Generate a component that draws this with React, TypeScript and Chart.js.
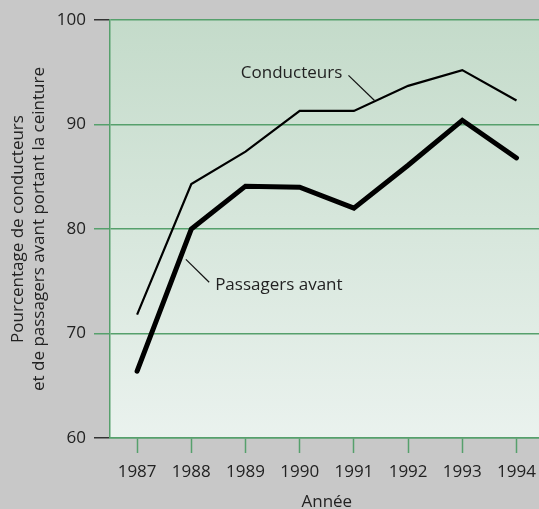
import React, { useEffect, useRef } from 'react';
import { Chart, registerables } from 'chart.js';

Chart.register(...registerables);

const years = ['1987', '1988', '1989', '1990', '1991', '1992', '1993', '1994'];
const conducteurs = [71.8, 84.3, 87.4, 91.3, 91.3, 93.7, 95.2, 92.3];
const passagers = [66.4, 80.0, 84.1, 84.0, 82.0, 86.1, 90.4, 86.8];
const yTicks = [60, 70, 80, 90, 100];

const yTitle = ['Pourcentage de conducteurs', 'et de passagers avant portant la ceinture'];
const xTitle = 'Année';

// annotation labels, anchored in data units (category index, value)
const labelTexts = ['Conducteurs', 'Passagers avant'];
const labelAnchors = [
  { x: 2.85, y: 94.9, align: 'center' },
  { x: 1.44, y: 74.6, align: 'left' },
];
const leaderLines = [
  { x1: 3.9, y1: 94.7, x2: 4.38, y2: 92.3 },
  { x1: 0.9, y1: 77.1, x2: 1.33, y2: 74.9 },
];

const GREEN = '#56a06c';
const TEXT = '#222222';
const FONT = "'Open Sans', 'Noto Sans', sans-serif";

const bgPlugin = {
  id: 'bgPlugin',
  beforeDraw(chart: any) {
    const { ctx, chartArea, width, height } = chart;
    ctx.save();
    ctx.fillStyle = '#c8c8c8';
    ctx.fillRect(0, 0, width, height);
    const g = ctx.createLinearGradient(0, chartArea.top, 0, chartArea.bottom);
    g.addColorStop(0, '#c4dbca');
    g.addColorStop(1, '#eaf2ee');
    ctx.fillStyle = g;
    ctx.fillRect(chartArea.left, chartArea.top, chartArea.right - chartArea.left, chartArea.bottom - chartArea.top);
    ctx.restore();
  },
};

const annotPlugin = {
  id: 'annotPlugin',
  afterDatasetsDraw(chart: any) {
    const { ctx } = chart;
    const xs = chart.scales.x;
    const ys = chart.scales.y;
    ctx.save();
    ctx.strokeStyle = '#111';
    ctx.lineWidth = 1.2;
    leaderLines.forEach((l) => {
      ctx.beginPath();
      ctx.moveTo(xs.getPixelForValue(l.x1), ys.getPixelForValue(l.y1));
      ctx.lineTo(xs.getPixelForValue(l.x2), ys.getPixelForValue(l.y2));
      ctx.stroke();
    });
    ctx.fillStyle = TEXT;
    ctx.font = `17px ${FONT}`;
    ctx.textBaseline = 'middle';
    labelAnchors.forEach((a, i) => {
      ctx.textAlign = a.align as CanvasTextAlign;
      ctx.fillText(labelTexts[i], xs.getPixelForValue(a.x), ys.getPixelForValue(a.y));
    });
    ctx.restore();
  },
};

export default function App() {
  const ref = useRef<HTMLCanvasElement | null>(null);

  useEffect(() => {
    document.body.style.overflow = 'hidden';
    document.body.style.background = '#c8c8c8';
    const canvas = ref.current;
    if (!canvas) return;
    const chart = new Chart(canvas, {
      type: 'line',
      data: {
        labels: years,
        datasets: [
          {
            label: 'Conducteurs',
            data: conducteurs,
            borderColor: '#000',
            borderWidth: 2.2,
            pointRadius: 0,
            tension: 0,
            borderJoinStyle: 'miter',
            borderCapStyle: 'butt',
          },
          {
            label: 'Passagers avant',
            data: passagers,
            borderColor: '#000',
            borderWidth: 5,
            pointRadius: 0,
            tension: 0,
            borderJoinStyle: 'miter',
            borderCapStyle: 'round',
          },
        ],
      },
      options: {
        responsive: false,
        animation: false,
        devicePixelRatio: 1,
        layout: { padding: { top: 20, right: 1, left: 0, bottom: 0 } },
        plugins: {
          legend: { display: false },
          tooltip: { enabled: false },
        },
        scales: {
          x: {
            type: 'category',
            offset: true,
            grid: {
              display: true,
              drawOnChartArea: false,
              drawTicks: true,
              tickLength: 15,
              tickColor: GREEN,
              tickWidth: 1.5,
              offset: false,
            },
            border: { display: true, color: GREEN, width: 1.5 },
            ticks: {
              color: TEXT,
              font: { family: FONT, size: 17 },
              padding: 9,
              maxRotation: 0,
              autoSkip: false,
            },
            title: {
              display: true,
              text: xTitle,
              color: TEXT,
              font: { family: FONT, size: 17, lineHeight: 0.86 },
              padding: 0,
            },
            afterFit(scale: any) {
              scale.height = 71;
            },
          },
          y: {
            min: 60,
            max: 100,
            afterBuildTicks(scale: any) {
              scale.ticks = yTicks.map((v) => ({ value: v }));
            },
            grid: {
              color: GREEN,
              lineWidth: 1.5,
              drawTicks: true,
              tickLength: 16,
              tickColor: (c: any) => (c.tick && (c.tick.value === 60 || c.tick.value === 100) ? '#333333' : GREEN),
              tickWidth: 1.5,
            },
            border: { display: true, color: GREEN, width: 1.5 },
            ticks: {
              color: TEXT,
              font: { family: FONT, size: 17 },
              padding: 8,
            },
            title: {
              display: true,
              text: yTitle,
              color: TEXT,
              font: { family: FONT, size: 17, lineHeight: 1.24 },
              padding: { top: 7.5, bottom: 0 },
            },
            afterFit(scale: any) {
              scale.width = 110;
            },
          },
        },
      },
      plugins: [bgPlugin, annotPlugin],
    });
    return () => chart.destroy();
  }, []);

  return (
    <div style={{ position: 'fixed', left: 0, top: 0, width: 545, height: 509, overflow: 'hidden' }}>
      <canvas ref={ref} width={545} height={509} style={{ display: 'block', width: 545, height: 509 }} />
    </div>
  );
}
